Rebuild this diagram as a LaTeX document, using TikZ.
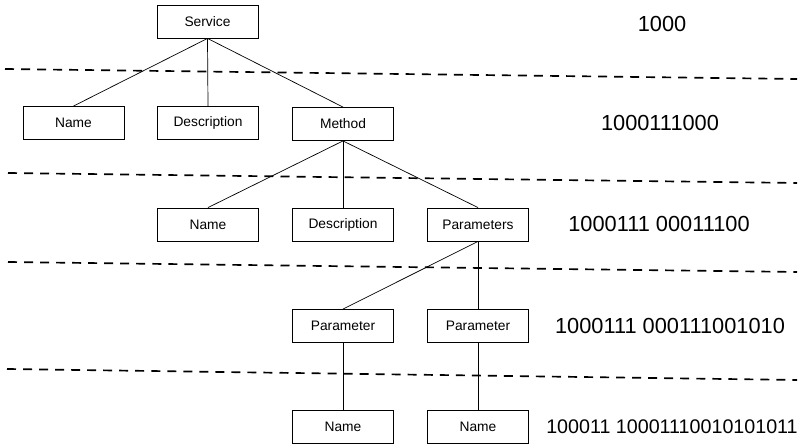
\documentclass[tikz,border=0pt]{standalone}
\usepackage{fontspec}
\setmainfont{Liberation Sans}
\usetikzlibrary{positioning}

\begin{document}
\begin{tikzpicture}[x=0.025cm, y=-0.025cm,
fieldnode/.style={rectangle, draw=black, line width=0.6pt, minimum width=2.525cm, minimum height=0.825cm, inner sep=0pt, font=\fontsize{9.8}{11}\selectfont},
codenode/.style={inner sep=0pt, font=\fontsize{15.5}{18}\selectfont},
smallcodenode/.style={inner sep=0pt, font=\fontsize{14}{17}\selectfont},
separator/.style={line width=1.2pt, dash pattern=on 6.4pt off 5pt},
link/.style={line width=0.5pt},
]
\useasboundingbox (0,0) rectangle (803,446);

%Nodes
\node[fieldnode]  at (207.5,21.5)  (service)   [] {Service};

\node[fieldnode]  at (73.5,123)    (name_a)    [] {Name};
\node[fieldnode]  at (208,123)     (desc_a)    [] {Description};
\node[fieldnode]  at (343,124)     (method)    [] {Method};

\node[fieldnode]  at (208,224.5)   (name_b)    [] {Name};
\node[fieldnode]  at (343,224.5)   (desc_b)    [] {Description};
\node[fieldnode]  at (478,224.5)   (params)    [] {Parameters};

\node[fieldnode]  at (343,326)     (param_a)   [] {Parameter};
\node[fieldnode]  at (478,326)     (param_b)   [] {Parameter};

\node[fieldnode]  at (343,427)     (name_c)    [] {Name};
\node[fieldnode]  at (478,427)     (name_d)    [] {Name};

% codes
\node[codenode]       at (662,24)    (code_a)  [] {1000};
\node[codenode]       at (660,123)   (code_b)  [] {1000111000};
\node[codenode]       at (659,224)   (code_c)  [] {1000111 00011100};
\node[codenode]       at (670,326)   (code_d)  [] {1000111 000111001010};
\node[smallcodenode]  at (672,427)   (code_e)  [] {100011 10001110010101011};

% separator ends
\coordinate (sep_a_start) at (5,69);   \coordinate (sep_a_end) at (797,79);
\coordinate (sep_b_start) at (8,173);  \coordinate (sep_b_end) at (797,183);
\coordinate (sep_c_start) at (8,262);  \coordinate (sep_c_end) at (797,272);
\coordinate (sep_d_start) at (7,369);  \coordinate (sep_d_end) at (797,380);

% %Lines
\draw[separator] (sep_a_start) -- (sep_a_end);
\draw[separator] (sep_b_start) -- (sep_b_end);
\draw[separator] (sep_c_start) -- (sep_c_end);
\draw[separator] (sep_d_start) -- (sep_d_end);

\draw[link] (service.south) -- (name_a.north);
\draw[link] (service.south) -- (desc_a.north);
\draw[link] (service.south) -- (method.north);

\draw[link] (method.south) -- (name_b.north);
\draw[link] (method.south) -- (desc_b.north);
\draw[link] (method.south) -- (params.north);

\draw[link] (params.south) -- (param_a.north);
\draw[link] (params.south) -- (param_b.north);

\draw[link] (param_a.south) -- (name_c.north);
\draw[link] (param_b.south) -- (name_d.north);

\end{tikzpicture}
\end{document}
